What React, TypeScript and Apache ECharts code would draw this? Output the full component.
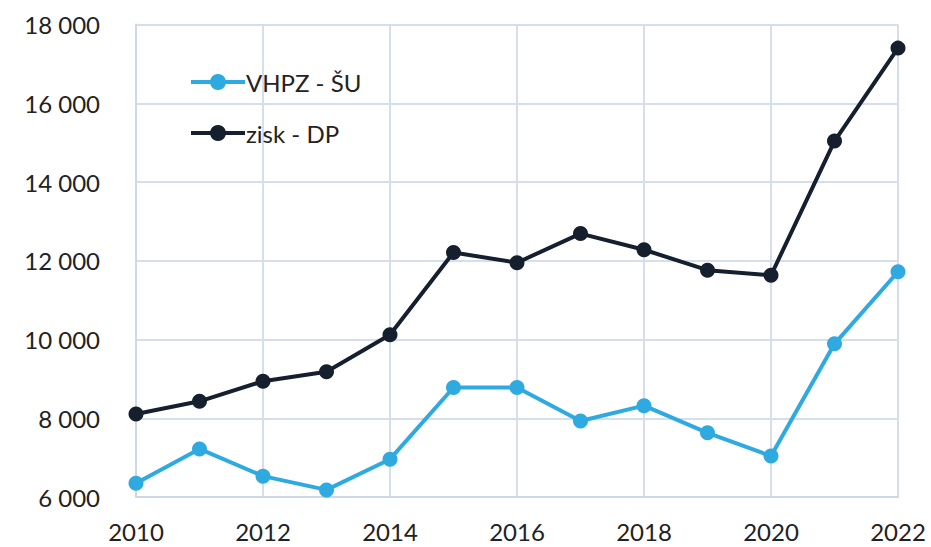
import React, { useEffect, useRef } from "react";
import * as echarts from "echarts";

const years = [2010, 2011, 2012, 2013, 2014, 2015, 2016, 2017, 2018, 2019, 2020, 2021, 2022];
const vhpzSU = [6350, 7220, 6530, 6180, 6960, 8780, 8780, 7930, 8320, 7630, 7040, 9890, 11720];
const ziskDP = [8110, 8430, 8940, 9180, 10120, 12210, 11950, 12690, 12280, 11760, 11630, 15040, 17400];
const seriesNames = ["VHPZ - ŠU", "zisk - DP"];

const FONT = "Lato, 'Open Sans', sans-serif";

export default function App() {
  const ref = useRef<HTMLDivElement>(null);
  useEffect(() => {
    if (!ref.current) return;
    const chart = echarts.init(ref.current, null, { renderer: "svg" });
    const fmt = (v: number) => String(v).replace(/\B(?=(\d{3})+(?!\d))/g, " ");
    chart.setOption({
      animation: false,
      backgroundColor: "#ffffff",
      textStyle: { fontFamily: FONT },
      grid: { left: 136, right: 33, top: 24.5, bottom: 50, containLabel: false },
      legend: {
        orient: "vertical",
        left: 189,
        top: 70,
        padding: 0,
        itemWidth: 54,
        itemHeight: 20,
        itemGap: 27,
        lineStyle: { width: 4 },
        textStyle: { fontSize: 24, lineHeight: 24, color: "#222222", fontFamily: FONT, padding: [0, 0, 0, -4] },
        data: seriesNames,
      },
      xAxis: {
        type: "value",
        min: 2010,
        max: 2022,
        interval: 2,
        axisLine: { show: true, lineStyle: { color: "#cdd7e6", width: 2 } },
        axisTick: { show: false },
        splitLine: { show: true, lineStyle: { color: "#d5deea", width: 2 } },
        axisLabel: { formatter: (v: number) => String(v), fontSize: 24, color: "#222222", margin: 22, fontFamily: FONT },
      },
      yAxis: {
        type: "value",
        min: 6000,
        max: 18000,
        interval: 2000,
        axisLine: { show: true, lineStyle: { color: "#cdd7e6", width: 2 } },
        axisTick: { show: false },
        splitLine: { show: true, lineStyle: { color: "#d5deea", width: 2 } },
        axisLabel: { formatter: fmt, fontSize: 24, color: "#222222", margin: 36, fontFamily: FONT },
      },
      series: [
        {
          name: seriesNames[0],
          type: "line",
          data: years.map((y, i) => [y, vhpzSU[i]]),
          symbol: "circle",
          symbolSize: 15,
          lineStyle: { color: "#2eaae1", width: 4 },
          itemStyle: { color: "#2eaae1" },
          z: 3,
        },
        {
          name: seriesNames[1],
          type: "line",
          data: years.map((y, i) => [y, ziskDP[i]]),
          symbol: "circle",
          symbolSize: 15,
          lineStyle: { color: "#151f2e", width: 4 },
          itemStyle: { color: "#151f2e" },
          z: 3,
        },
      ],
    });
    return () => chart.dispose();
  }, []);
  return <div ref={ref} style={{ position: "fixed", left: 0, top: 0, width: 931, height: 547 }} />;
}
